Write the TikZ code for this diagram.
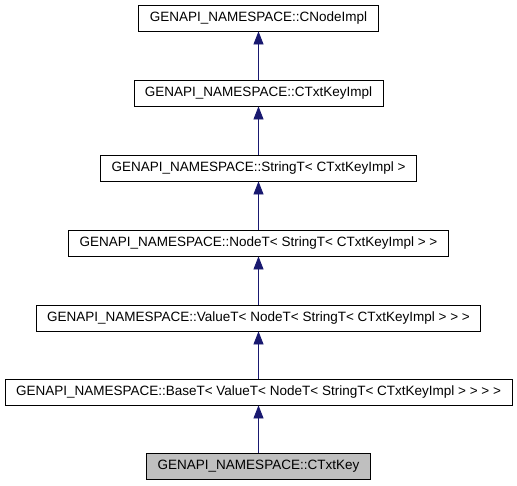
\documentclass[tikz,border=0pt]{standalone}
\usepackage{fontspec}
\setmainfont{Liberation Sans}
\usetikzlibrary{arrows.meta}
\definecolor{edgeblue}{HTML}{191970}
\tikzset{
  cls/.style={draw, thick, fill=white, font=\fontsize{13.5}{16}\selectfont,
    minimum height=26pt, inner xsep=11pt, inner ysep=0pt},
  current/.style={cls, fill=black!25},
  inherit/.style={edgeblue, thick, -{Triangle[length=13pt,width=10pt]}}
}
\begin{document}
\begin{tikzpicture}[x=1pt,y=1pt]
            \useasboundingbox (0,0) rectangle (517,-485);
            \node[cls] (nodeimpl) at (258.5,-18) {GENAPI\_NAMESPACE::CNodeImpl};
            \node[cls] (keyimpl) at (258.5,-93) {GENAPI\_NAMESPACE::CTxtKeyImpl};
            \node[cls] (stringt) at (258.5,-168) {GENAPI\_NAMESPACE::StringT< CTxtKeyImpl >};
            \node[cls] (nodet) at (258.5,-243) {GENAPI\_NAMESPACE::NodeT< StringT< CTxtKeyImpl > >};
            \node[cls] (valuet) at (258.5,-318) {GENAPI\_NAMESPACE::ValueT< NodeT< StringT< CTxtKeyImpl > > >};
            \node[cls] (baset) at (258.5,-392) {GENAPI\_NAMESPACE::BaseT< ValueT< NodeT< StringT< CTxtKeyImpl > > > >};
            \node[current] (txtkey) at (258.5,-466) {GENAPI\_NAMESPACE::CTxtKey};
            \draw[inherit] (keyimpl) -- (nodeimpl);
            \draw[inherit] (stringt) -- (keyimpl);
            \draw[inherit] (nodet) -- (stringt);
            \draw[inherit] (valuet) -- (nodet);
            \draw[inherit] (baset) -- (valuet);
            \draw[inherit] (txtkey) -- (baset);
        \end{tikzpicture}
\end{document}
